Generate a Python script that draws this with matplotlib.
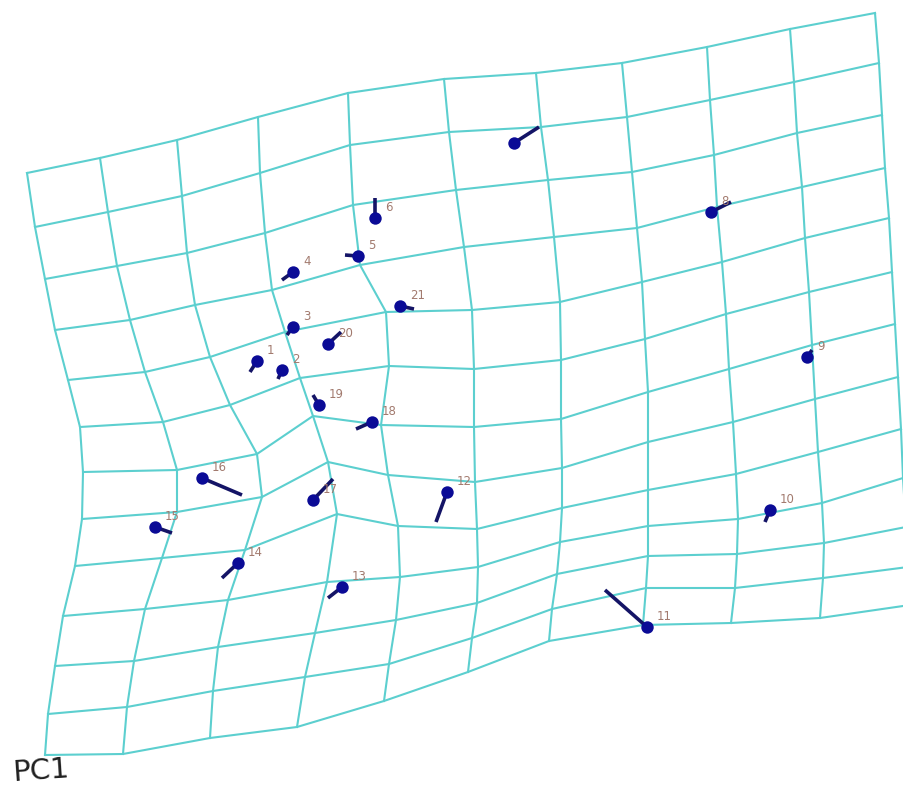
import numpy as np
import matplotlib.pyplot as plt

# deformation grid nodes (pixels), one list per vertical line, top to bottom
grid_x = [
    [27, 35, 45, 55, 68, 80, 83, 82, 75, 63, 55, 48, 45],
    [100, 108, 117, 130, 145, 163, 177, 177, 162, 145, 134, 127, 123],
    [177, 182, 187, 195, 210, 230, 257, 262, 245, 228, 218, 213, 210],
    [258, 260, 265, 272, 285, 300, 313, 328, 337, 327, 315, 305, 297],
    [348, 350, 353, 360, 386, 389, 381, 388, 398, 400, 396, 389, 384],
    [444, 449, 456, 464, 472, 474, 474, 475, 477, 478, 477, 472, 468],
    [536, 541, 548, 554, 560, 561, 561, 562, 562, 560, 557, 552, 549],
    [622, 627, 632, 637, 642, 645, 648, 648, 648, 648, 648, 646, 643],
    [707, 710, 714, 717, 722, 726, 729, 733, 736, 738, 737, 735, 731],
    [790, 794, 797, 802, 805, 809, 812, 815, 818, 822, 824, 823, 820],
    [875, 879, 882, 885, 889, 892, 895, 898, 901, 903, 906, 908, 910],
]
grid_y = [
    [173, 227, 279, 330, 380, 427, 472, 519, 566, 616, 666, 714, 755],
    [158, 212, 266, 320, 372, 422, 470, 512, 558, 609, 661, 707, 754],
    [140, 196, 253, 305, 357, 405, 454, 497, 550, 600, 647, 691, 738],
    [117, 173, 233, 290, 332, 378, 416, 462, 514, 582, 633, 677, 727],
    [93, 145, 205, 265, 312, 366, 425, 475, 526, 577, 620, 664, 701],
    [79, 132, 190, 247, 310, 369, 427, 482, 529, 567, 603, 638, 672],
    [73, 127, 180, 237, 302, 360, 419, 468, 508, 542, 574, 609, 641],
    [63, 117, 172, 228, 282, 339, 392, 442, 490, 526, 556, 588, 625],
    [47, 100, 155, 207, 262, 314, 369, 422, 474, 519, 554, 588, 623],
    [29, 82, 133, 187, 238, 292, 345, 399, 452, 503, 543, 578, 618],
    [13, 63, 115, 168, 218, 272, 324, 377, 429, 478, 527, 567, 605],
]

# landmarks: dot position and end of the lollipop stick
lm_label = ['1', '2', '3', '4', '5', '6', '', '8', '9', '10', '11',
            '12', '13', '14', '15', '16', '17', '18', '19', '20', '21']
lm_x = [257, 282, 293, 293, 358, 375, 514, 711, 807, 770, 647,
        447, 342, 238, 155, 202, 313, 372, 319, 328, 400]
lm_y = [361, 370, 327, 272, 256, 218, 143, 212, 357, 510, 627,
        492, 587, 563, 527, 478, 500, 422, 405, 344, 306]
tip_x = [250, 278, 287, 282, 345, 375, 539, 731, 812, 765, 605,
         436, 328, 222, 172, 242, 333, 356, 313, 341, 414]
tip_y = [372, 379, 335, 280, 255, 198, 127, 202, 350, 522, 590,
         522, 598, 578, 533, 495, 479, 429, 395, 332, 309]

gx = np.array(grid_x)
gy = np.array(grid_y)

fig = plt.figure(figsize=(9.04, 7.86), dpi=100)
ax = fig.add_axes([0, 0, 1, 1])

grid_color = '#5ccfcf'
for c in range(gx.shape[0]):
    ax.plot(gx[c], gy[c], color=grid_color, lw=1.5, zorder=1)
for r in range(gx.shape[1]):
    ax.plot(gx[:, r], gy[:, r], color=grid_color, lw=1.5, zorder=1)

for i in range(len(lm_x)):
    ax.plot([lm_x[i], tip_x[i]], [lm_y[i], tip_y[i]], color='#141466',
            lw=2.6, solid_capstyle='butt', zorder=2)
ax.scatter(lm_x, lm_y, s=80, color='#0b0b96', zorder=3, linewidths=0)
for i, lab in enumerate(lm_label):
    ax.text(lm_x[i] + 10, lm_y[i] - 4, lab, fontsize=8.5, color='#a27a6e',
            ha='left', va='bottom', zorder=4)

ax.text(12, 781, 'PC1', fontsize=21, color='#202020', ha='left', va='baseline',
        rotation=4)

ax.set_xlim(0, 904)
ax.set_ylim(786, 0)
ax.axis('off')

fig.savefig('out.png', dpi=100, facecolor='white')
